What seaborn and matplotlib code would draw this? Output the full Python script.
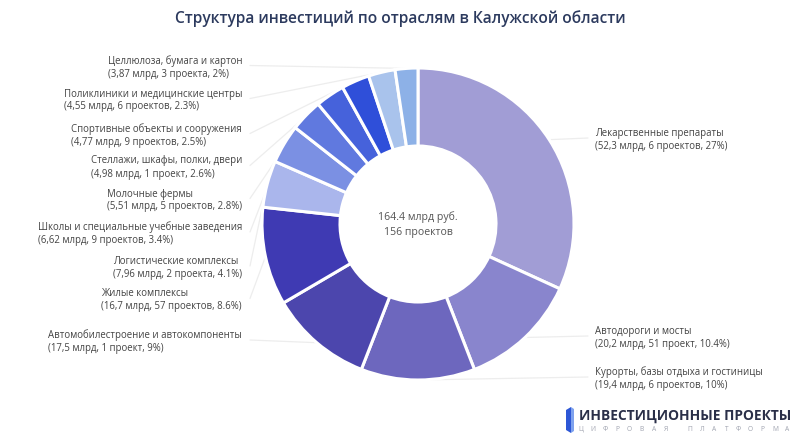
import matplotlib
matplotlib.use("Agg")
import matplotlib.pyplot as plt
from matplotlib.patches import Polygon
import seaborn as sns
import numpy as np

# ---- data (clockwise from 12 o'clock) ----
categories = [
    "Лекарственные препараты",
    "Автодороги и мосты",
    "Курорты, базы отдыха и гостиницы",
    "Автомобилестроение и автокомпоненты",
    "Жилые комплексы",
    "Логистические комплексы",
    "Школы и специальные учебные заведения",
    "Молочные фермы",
    "Стеллажи, шкафы, полки, двери",
    "Спортивные объекты и сооружения",
    "Поликлиники и медицинские центры",
    "Целлюлоза, бумага и картон",
]
values_bln = [52.3, 20.2, 19.4, 17.5, 16.7, 7.96, 6.62, 5.51, 4.98, 4.77, 4.55, 3.87]
projects = [6, 51, 6, 1, 57, 2, 9, 5, 1, 9, 6, 3]
shares = [27, 10.4, 10, 9, 8.6, 4.1, 3.4, 2.8, 2.6, 2.5, 2.3, 2]
colors = ["#a19dd5", "#8985cd", "#6d67be", "#4c46ad", "#3f3ab3", "#aab6ec",
          "#7b90e3", "#6079df", "#4662db", "#2f4fd9", "#a9c3ec", "#8db1e7"]
total_text = "164.4 млрд руб."
total_projects_text = "156 проектов"
title = "Структура инвестиций по отраслям в Калужской области"
logo_title = "ИНВЕСТИЦИОННЫЕ ПРОЕКТЫ"
logo_sub = "ЦИФРОВАЯ ПЛАТФОРМА"

def proj_word(n):
    if n % 10 == 1 and n % 100 != 11:
        return "проект"
    if 2 <= n % 10 <= 4 and not 12 <= n % 100 <= 14:
        return "проекта"
    return "проектов"

sns.set_theme(style="white")
plt.rcParams['font.family'] = ['Open Sans', 'DejaVu Sans']

W, H = 800, 447
fig = plt.figure(figsize=(8, 4.47), dpi=100)
fig.patch.set_facecolor("white")
ax = fig.add_axes([0, 0, 1, 1])

cx, cy, R = 418, H - 224, 156
palette = sns.color_palette(colors)
wedges, _ = ax.pie(values_bln, colors=palette, startangle=90, counterclock=False,
                   center=(cx, cy), radius=R,
                   wedgeprops=dict(width=78, edgecolor="white", linewidth=2.2))
for w in wedges:
    w.set_zorder(2)
ax.set_xlim(0, W)
ax.set_ylim(0, H)
ax.set_aspect("equal")
ax.axis("off")

# label layout (pixel rows from top) - right side first three, rest on left
label_y = [140, 338, 379, 342, 300.5, 268, 234, 200.5, 167.5, 135.5, 100.5, 67.5]
label_side = ["r", "r", "r"] + ["l"] * 9
txt_color = "#444444"
line_color = "#ededed"
for i, (name, v, p, s) in enumerate(zip(categories, values_bln, projects, shares)):
    info = f"({v:.3g}".replace(".", ",") + f" млрд, {p} {proj_word(p)}, {s:g}%)"
    label = f"{name}\n{info}"
    y = H - label_y[i]
    w = wedges[i]
    ang = np.deg2rad((w.theta1 + w.theta2) / 2)
    px, py = cx + R * np.cos(ang), cy + R * np.sin(ang)
    if label_side[i] == "l":
        ax.text(242, y, label, ha="right", va="center", multialignment="left",
                fontsize=6.9, color=txt_color, linespacing=1.25, zorder=3)
        ax.plot([250, px], [y + 2, py], color=line_color, lw=0.9, zorder=1)
    else:
        ax.text(595, y, label, ha="left", va="center", multialignment="left",
                fontsize=6.9, color=txt_color, linespacing=1.25, zorder=3)
        ax.plot([px, 588], [py, y + 2], color=line_color, lw=0.9, zorder=1)

# center text
ax.text(cx, H - 217, total_text, ha="center", va="center", fontsize=7.6, color="#555555", zorder=3)
ax.text(cx, H - 232, total_projects_text, ha="center", va="center", fontsize=7.6, color="#555555", zorder=3)

# title
fig.text(0.5, 1 - 18.5 / H, title, ha="center", va="center", fontsize=11.2,
         color="#2c3a5e", fontweight="semibold")

# logo
ax.add_patch(Polygon([[566, H - 410], [571, H - 407], [571, H - 433], [566, H - 430]],
                     closed=True, facecolor="#2d57d6", edgecolor="none", zorder=3))
ax.add_patch(Polygon([[571, H - 407], [574, H - 409], [574, H - 431], [571, H - 433]],
                     closed=True, facecolor="#7fa2ee", edgecolor="none", zorder=3))
ax.text(579, H - 416, logo_title, ha="left", va="center", fontsize=9.9,
        fontweight="bold", color="#2a2f48", zorder=3)
n_slots = len(logo_sub)
x0, x1 = 581, 787
for k, ch in enumerate(logo_sub):
    if ch.strip():
        ax.text(x0 + (x1 - x0) * k / (n_slots - 1), H - 429.5, ch, ha="center", va="center",
                fontsize=4.8, color="#a0a4b0", zorder=3)

fig.savefig("out.png", dpi=100, facecolor="white")
